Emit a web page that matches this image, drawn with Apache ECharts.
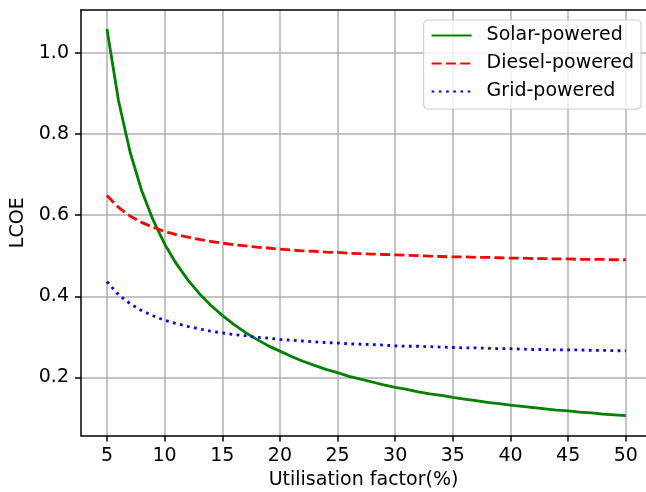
<!DOCTYPE html>
<html>
<head>
<meta charset="utf-8">
<script src="https://cdn.jsdelivr.net/npm/echarts@6/dist/echarts.min.js"></script>
<style>
  html, body { margin: 0; padding: 0; background: #fff; }
  #chart { width: 646px; height: 492px; }
</style>
</head>
<body>
<div id="chart"></div>
<script>
// Utilisation factor (%) at which LCOE was evaluated
const utilisation = [5, 6, 7, 8, 9, 10, 11, 12, 13, 14, 15, 16, 17, 18, 19, 20,
  21, 22, 23, 24, 25, 26, 27, 28, 29, 30, 31, 32, 33, 34, 35, 36, 37, 38, 39, 40,
  41, 42, 43, 44, 45, 46, 47, 48, 49, 50];

const solarLcoe = [1.058, 0.882, 0.756, 0.661, 0.588, 0.529, 0.481, 0.441, 0.407, 0.378,
  0.353, 0.331, 0.311, 0.294, 0.278, 0.265, 0.252, 0.240, 0.230, 0.220,
  0.212, 0.203, 0.196, 0.189, 0.182, 0.176, 0.171, 0.165, 0.160, 0.156,
  0.151, 0.147, 0.143, 0.139, 0.136, 0.132, 0.129, 0.126, 0.123, 0.120,
  0.118, 0.115, 0.113, 0.110, 0.108, 0.106];

const dieselLcoe = [0.648, 0.619, 0.598, 0.582, 0.570, 0.560, 0.552, 0.546, 0.540, 0.535,
  0.531, 0.527, 0.524, 0.521, 0.519, 0.516, 0.514, 0.512, 0.511, 0.509,
  0.508, 0.506, 0.505, 0.504, 0.503, 0.502, 0.501, 0.500, 0.499, 0.498,
  0.497, 0.497, 0.496, 0.496, 0.495, 0.494, 0.494, 0.493, 0.493, 0.492,
  0.492, 0.491, 0.491, 0.491, 0.490, 0.490];

const gridLcoe = [0.436, 0.404, 0.382, 0.365, 0.352, 0.341, 0.333, 0.326, 0.320, 0.314,
  0.310, 0.306, 0.303, 0.299, 0.297, 0.294, 0.292, 0.290, 0.288, 0.286,
  0.285, 0.283, 0.282, 0.281, 0.280, 0.278, 0.277, 0.277, 0.276, 0.275,
  0.274, 0.273, 0.273, 0.272, 0.271, 0.271, 0.270, 0.269, 0.269, 0.268,
  0.268, 0.268, 0.267, 0.267, 0.266, 0.266];

const xTicks = [5, 10, 15, 20, 25, 30, 35, 40, 45, 50];
const yTicks = [0.2, 0.4, 0.6, 0.8, 1.0];

const FONT = 'DejaVu Sans';
const FS = 19;
const X_MIN = 2.75, X_MAX = 51.75;

const pairs = ys => utilisation.map((x, i) => [x, ys[i]]);

const chart = echarts.init(document.getElementById('chart'), null, { renderer: 'canvas' });

const lineSeries = (name, ys, color, type) => ({
  name: name,
  type: 'line',
  xAxisIndex: 0,
  data: pairs(ys),
  symbol: 'none',
  showSymbol: false,
  smooth: false,
  animation: false,
  lineStyle: { color: color, width: 2.8, type: type, cap: 'butt' },
  itemStyle: { color: color }
});

chart.setOption({
  animation: false,
  backgroundColor: '#fff',
  textStyle: { fontFamily: FONT, color: '#000' },
  grid: { left: 81, top: 10, right: 0, bottom: 56.5, outerBoundsMode: 'none', containLabel: false },
  legend: {
    orient: 'vertical',
    right: 5, top: 20,
    itemWidth: 40, itemHeight: 19, itemGap: 9,
    padding: [6, 7, 8, 7],
    backgroundColor: 'rgba(255,255,255,0.8)',
    borderColor: '#cccccc', borderWidth: 1, borderRadius: 4,
    itemStyle: { opacity: 0 },
    textStyle: { fontFamily: FONT, fontSize: FS, color: '#000', padding: [0, 0, 0, 10] },
    data: ['Solar-powered', 'Diesel-powered', 'Grid-powered']
  },
  xAxis: [{
    type: 'value',
    min: X_MIN, max: X_MAX,
    name: 'Utilisation factor(%)',
    nameLocation: 'middle',
    nameGap: 35,
    nameTextStyle: { fontFamily: FONT, fontSize: FS, color: '#000' },
    axisLine: { show: true, onZero: false, lineStyle: { color: '#000', width: 1.5 } },
    axisTick: { show: true, length: 6, customValues: xTicks, lineStyle: { color: '#000', width: 1.5 } },
    axisLabel: { customValues: xTicks, margin: 11, fontFamily: FONT, fontSize: FS, color: '#000' },
    splitLine: { show: true, lineStyle: { color: '#b0b0b0', width: 1.5 } }
  }, {
    // top frame edge
    type: 'value',
    position: 'top',
    min: X_MIN, max: X_MAX,
    axisLine: { show: true, onZero: false, lineStyle: { color: '#000', width: 1.5 } },
    axisTick: { show: false },
    axisLabel: { show: false },
    splitLine: { show: false }
  }],
  yAxis: {
    type: 'value',
    min: 0.0573, max: 1.105,
    name: 'LCOE',
    nameLocation: 'middle',
    nameGap: 50,
    nameRotate: 90,
    nameTextStyle: { fontFamily: FONT, fontSize: FS, color: '#000' },
    axisLine: { show: true, onZero: false, lineStyle: { color: '#000', width: 1.5 } },
    axisTick: { show: true, length: 6, customValues: yTicks, lineStyle: { color: '#000', width: 1.5 } },
    axisLabel: {
      customValues: yTicks, margin: 12, fontFamily: FONT, fontSize: FS, color: '#000',
      formatter: v => v.toFixed(1)
    },
    splitLine: { show: true, lineStyle: { color: '#b0b0b0', width: 1.5 } }
  },
  series: [
    lineSeries('Solar-powered', solarLcoe, '#008000', 'solid'),
    lineSeries('Diesel-powered', dieselLcoe, '#ff0000', [10, 4.3]),
    lineSeries('Grid-powered', gridLcoe, '#0000ff', [2.7, 4.5])
  ]
});
</script>
</body>
</html>
